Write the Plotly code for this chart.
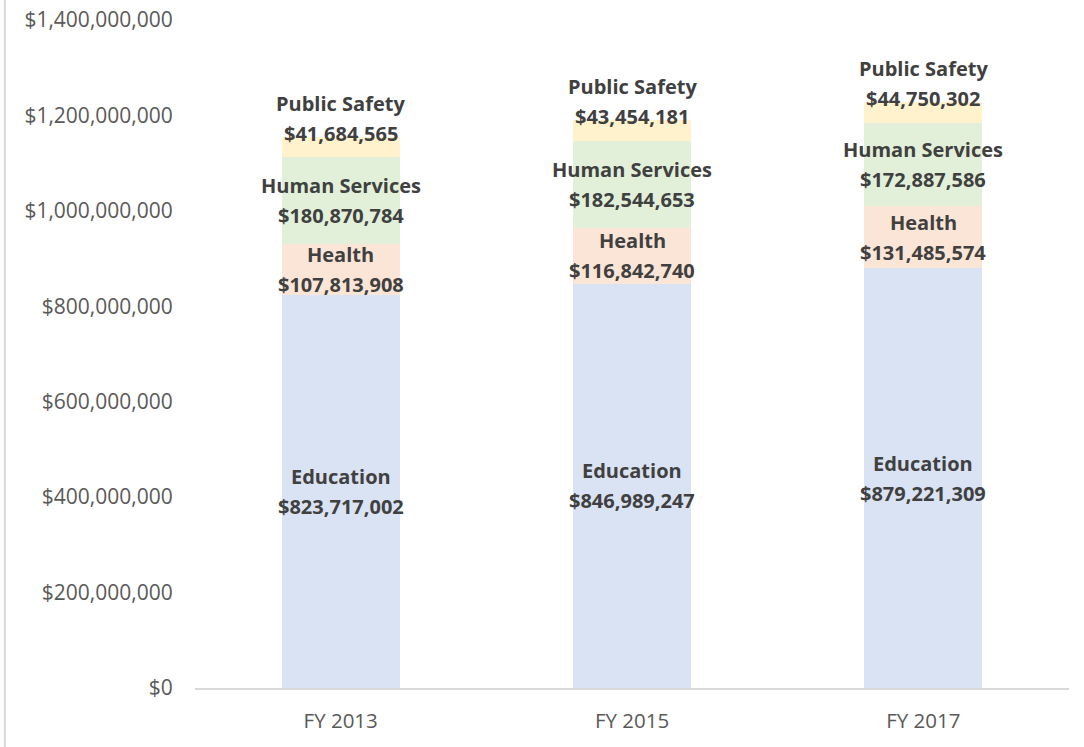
import plotly.graph_objects as go

years = ["FY 2013", "FY 2015", "FY 2017"]
education = [823717002, 846989247, 879221309]
health = [107813908, 116842740, 131485574]
human_services = [180870784, 182544653, 172887586]
public_safety = [41684565, 43454181, 44750302]

series = [
    ("Education", education, "#DAE3F3", 0),
    ("Health", health, "#FBE5D6", 0),
    ("Human Services", human_services, "#E2F0D9", 0),
    ("Public Safety", public_safety, "#FFF2CC", 29),
]

tickvals = [0, 200e6, 400e6, 600e6, 800e6, 1000e6, 1200e6, 1400e6]
ticktext = ["$0", "$200,000,000", "$400,000,000", "$600,000,000", "$800,000,000",
            "$1,000,000,000", "$1,200,000,000", "$1,400,000,000"]

FONT = "Open Sans"
fig = go.Figure()
annotations = []
base = [0, 0, 0]
for name, vals, color, yshift in series:
    fig.add_trace(go.Bar(x=years, y=vals, name=name, marker=dict(color=color, line=dict(width=0)),
                         hoverinfo="skip"))
    for i, (yr, v) in enumerate(zip(years, vals)):
        mid = base[i] + v / 2
        for txt, dy in ((f"<b>{name}</b>", 15), (f"<b>${v:,}</b>", -15)):
            annotations.append(dict(
                x=yr, y=mid, xref="x", yref="y",
                text=txt, showarrow=False,
                font=dict(family=FONT, size=20, color="#404040"),
                yshift=yshift + dy, align="center"))
        base[i] += v

fig.update_layout(
    barmode="stack",
    bargap=0.595,
    width=1084, height=747,
    autosize=False,
    margin=dict(l=195, r=15, t=20, b=59, pad=0),
    plot_bgcolor="white", paper_bgcolor="white",
    showlegend=False,
    annotations=annotations,
    font=dict(family=FONT, color="#595959", size=20),
    shapes=[dict(type="line", xref="paper", yref="paper", x0=-0.2175, x1=-0.2175,
                 y0=-0.09, y1=1.04, line=dict(color="#D9D9D9", width=2))],
)
fig.update_xaxes(showgrid=False, showline=True, linecolor="#D9D9D9", linewidth=2,
                 automargin=False,
                 ticks="outside", ticklen=13, tickcolor="rgba(0,0,0,0)",
                 tickfont=dict(family=FONT, size=20.5, color="#595959"))
fig.update_yaxes(range=[0, 1400e6], showgrid=False, zeroline=False, showline=False,
                 automargin=False,
                 tickvals=tickvals, ticktext=ticktext,
                 ticks="outside", ticklen=17, tickcolor="rgba(0,0,0,0)",
                 tickfont=dict(family=FONT, size=21, color="#595959"))

fig.write_html("out.html", config={"displayModeBar": False},
               post_script="document.body.style.margin='0';")
